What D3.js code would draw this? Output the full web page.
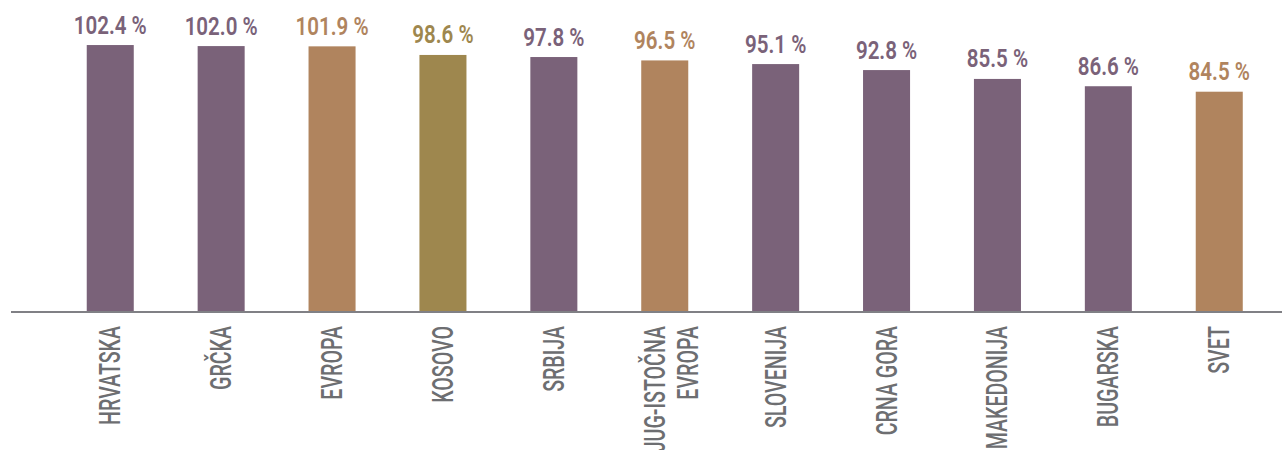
<!DOCTYPE html>
<html>
<head>
<meta charset="utf-8">
<script src="https://cdn.jsdelivr.net/npm/d3@7"></script>
<style>
  html, body { margin: 0; padding: 0; background: #fff; }
  svg { display: block; }
</style>
</head>
<body>
<svg id="chart" width="1282" height="450"></svg>
<script>
// ---- data ----
const categories = ["HRVATSKA", "GRČKA", "EVROPA", "KOSOVO", "SRBIJA", "JUG-ISTOČNA\nEVROPA", "SLOVENIJA", "CRNA GORA", "MAKEDONIJA", "BUGARSKA", "SVET"];
// bar heights as drawn in the picture
const values = [102.4, 102.0, 101.9, 98.6, 97.8, 96.5, 95.1, 92.8, 89.4, 86.6, 84.5];
// value labels as printed in the picture
const valueLabels = ["102.4 %", "102.0 %", "101.9 %", "98.6 %", "97.8 %", "96.5 %", "95.1 %", "92.8 %", "85.5 %", "86.6 %", "84.5 %"];
const groups = ["country", "country", "region", "kosovo", "country", "region", "country", "country", "country", "country", "region"];

const colors = { country: "#7a6279", region: "#b0845e", kosovo: "#9e874e" };

const svg = d3.select("#chart");
const baseY = 312;

const x = d3.scaleBand()
  .domain(categories)
  .range([54.8, 1274.7])
  .paddingInner(0.576)
  .paddingOuter(0.288);

const y = d3.scaleLinear().domain([0, 100]).range([baseY, 51.3]);

// bars
svg.append("g").selectAll("rect")
  .data(categories)
  .join("rect")
  .attr("x", d => x(d))
  .attr("width", x.bandwidth())
  .attr("y", (d, i) => y(values[i]))
  .attr("height", (d, i) => baseY - y(values[i]))
  .attr("fill", (d, i) => colors[groups[i]]);

// axis line
const axis = d3.axisBottom(x).tickSize(0).tickFormat("");
const axisG = svg.append("g").attr("transform", `translate(0,${baseY})`).call(axis);
axisG.select(".domain").remove();
svg.append("line")
  .attr("x1", 11).attr("x2", 1282)
  .attr("y1", baseY).attr("y2", baseY)
  .attr("stroke", "#808085").attr("stroke-width", 2);

// value labels
svg.append("g").selectAll("text")
  .data(categories)
  .join("text")
  .attr("transform", (d, i) => `translate(${x(d) + x.bandwidth() / 2},${y(values[i]) - 11.5}) scale(0.77,1)`)
  .attr("text-anchor", "middle")
  .attr("font-family", "Roboto, 'Noto Sans', sans-serif")
  .attr("font-weight", 600)
  .attr("font-size", 26.7)
  .attr("fill", (d, i) => colors[groups[i]])
  .text((d, i) => valueLabels[i]);

// category labels (rotated)
const catG = svg.append("g");
categories.forEach(c => {
  const lines = c.split("\n");
  const cx = x(c) + x.bandwidth() / 2;
  lines.forEach((ln, j) => {
    const off = 10 - (lines.length - 1) * 10 + j * 33;
    catG.append("text")
      .attr("transform", `translate(${cx + off},326) rotate(-90) scale(0.665,1)`)
      .attr("text-anchor", "end")
      .attr("font-family", "Roboto, 'Noto Sans', sans-serif")
      .attr("font-weight", 500)
      .attr("font-size", 29.5)
      .attr("fill", "#6d6e71")
      .text(ln);
  });
});
</script>
</body>
</html>
